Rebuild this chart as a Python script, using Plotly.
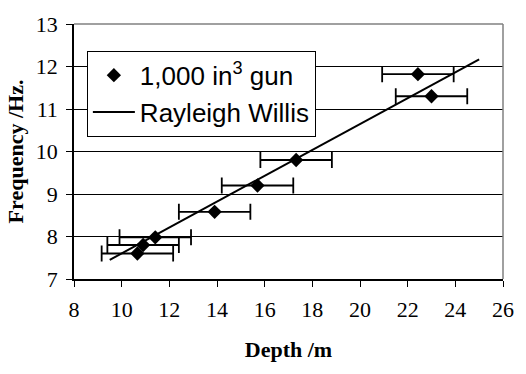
import plotly.graph_objects as go

depth = [22.43, 23.0, 17.32, 15.70, 13.90, 11.41, 10.90, 10.66]
freq = [11.82, 11.30, 9.80, 9.20, 8.58, 7.98, 7.80, 7.60]
depth_err = [1.5, 1.5, 1.5, 1.5, 1.5, 1.5, 1.5, 1.5]

fit_depth = [9.5, 25.0]
fit_freq = [7.45, 12.17]

x_ticks = [8, 10, 12, 14, 16, 18, 20, 22, 24, 26]
y_ticks = [7, 8, 9, 10, 11, 12, 13]

fig = go.Figure()
fig.add_trace(go.Scatter(
    x=depth, y=freq, mode="markers", name="1,000 in<sup>3</sup> gun",
    marker=dict(symbol="diamond", size=11, color="black"),
    error_x=dict(type="data", array=depth_err, visible=True, color="black",
                 thickness=1.8, width=8),
))
fig.add_trace(go.Scatter(
    x=fit_depth, y=fit_freq, mode="lines", name="Rayleigh Willis",
    line=dict(color="black", width=2),
))

serif = "Liberation Serif, Times New Roman, serif"
fig.update_layout(
    width=526, height=374,
    margin=dict(l=74, r=13, t=16, b=95),
    paper_bgcolor="white", plot_bgcolor="white",
    showlegend=True,
    legend=dict(
        x=0.03, y=0.895, xanchor="left", yanchor="top",
        bgcolor="white", bordercolor="black", borderwidth=1,
        font=dict(family="Liberation Sans, Arial, sans-serif", size=26, color="black"),
        tracegroupgap=0, itemwidth=42,
    ),
    xaxis=dict(
        range=[8, 26], tickvals=x_ticks, ticktext=[str(v) for v in x_ticks],
        showgrid=False, zeroline=False, showline=True, linecolor="black", linewidth=1.5,
        ticks="outside", ticklen=6, tickcolor="black", tickwidth=1,
        ticklabelstandoff=4,
        tickfont=dict(family=serif, size=22, color="black"),
        title=dict(text="<b>Depth /m</b>", font=dict(family=serif, size=22, color="black"), standoff=20),
    ),
    yaxis=dict(
        range=[7, 13], tickvals=y_ticks, ticktext=[str(v) for v in y_ticks],
        showgrid=True, gridcolor="black", gridwidth=1, zeroline=False,
        showline=True, linecolor="black", linewidth=1.5,
        ticks="outside", ticklen=6, tickcolor="black", tickwidth=1,
        ticklabelstandoff=4,
        tickfont=dict(family=serif, size=22, color="black"),
        title=dict(text="<b>Frequency /Hz.</b>", font=dict(family=serif, size=22, color="black"), standoff=6),
    ),
)
fig.add_shape(type="line", xref="paper", yref="paper", x0=0, x1=1, y0=1, y1=1,
              line=dict(color="#808080", width=1.5))
fig.add_shape(type="line", xref="paper", yref="paper", x0=1, x1=1, y0=0, y1=1,
              line=dict(color="#808080", width=1.5))

fig.write_html("out.html")
